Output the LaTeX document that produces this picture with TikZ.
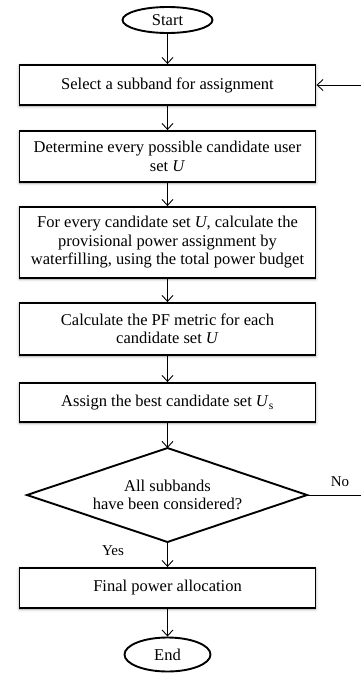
\documentclass[tikz,border=0pt]{standalone}
\usepackage{fontspec}
\setmainfont{Liberation Serif}
\usetikzlibrary{arrows.meta,shapes.geometric,shadows.blur}
\begin{document}
\begin{tikzpicture}[x=1pt,y=-1pt,
  every node/.style={font=\fontsize{16.5}{18.5}\selectfont, text=black},
  procbox/.style={draw, line width=1.9pt, fill=white, minimum width=296pt, inner sep=0pt, align=center,
    blur shadow={shadow xshift=0pt, shadow yshift=-1pt, shadow blur radius=3pt, shadow opacity=35}},
  termnode/.style={draw, ellipse, line width=1.9pt, inner sep=0pt},
  arr/.style={line width=0.9pt, -{Straight Barb[length=6pt,width=11pt,line width=0.9pt]}},
  lbl/.style={font=\fontsize{15}{17}\selectfont}
]
\useasboundingbox (0,0) rectangle (360,675);
\node[termnode, minimum width=90pt, minimum height=26pt] (start) at (167.5,20) {Start};
\node[procbox, minimum height=40pt] (b1) at (167.5,85) {Select a subband for assignment};
\node[procbox, minimum height=51pt] (b2) at (167.5,156.5) {Determine every possible candidate user\\set \textit{U}};
\node[procbox, minimum height=71pt] (b3) at (167.5,242.5) {For every candidate set \textit{U}, calculate the\\provisional power assignment by\\waterfilling, using the total power budget};
\node[procbox, minimum height=52pt] (b4) at (167.5,329) {Calculate the PF metric for each\\candidate set \textit{U}};
\node[procbox, minimum height=39pt] (b5) at (167.5,402.5) {Assign the best candidate set \textit{U}\textsubscript{s}};
\node[align=center] (dec) at (167.5,495) {All subbands\\have been considered?};
\coordinate (dtop) at (167.5,448);
\coordinate (dbot) at (167.5,542);
\coordinate (dleft) at (27,495);
\coordinate (dright) at (307,495);
\draw[line width=1.9pt, line join=miter] (dtop) -- (dright) -- (dbot) -- (dleft) -- cycle;
\node[procbox, minimum height=40pt] (b6) at (167.5,588) {Final power allocation};
\node[termnode, minimum width=86pt, minimum height=34pt] (end) at (167.5,654.5) {End};
\node[lbl] (yes) at (113,551) {Yes};
\node[lbl] (no) at (340,482) {No};
\coordinate (fbd) at (364,495);
\coordinate (fbu) at (364,85);
\draw[arr] (start) -- (b1);
\draw[arr] (b1) -- (b2);
\draw[arr] (b2) -- (b3);
\draw[arr] (b3) -- (b4);
\draw[arr] (b4) -- (b5);
\draw[arr] (b5) -- (dtop);
\draw[arr] (dbot) -- (b6);
\draw[arr] (b6) -- (end);
\draw[arr] (dright) -- (fbd) -- (fbu) -- (b1.east);
\end{tikzpicture}
\end{document}
